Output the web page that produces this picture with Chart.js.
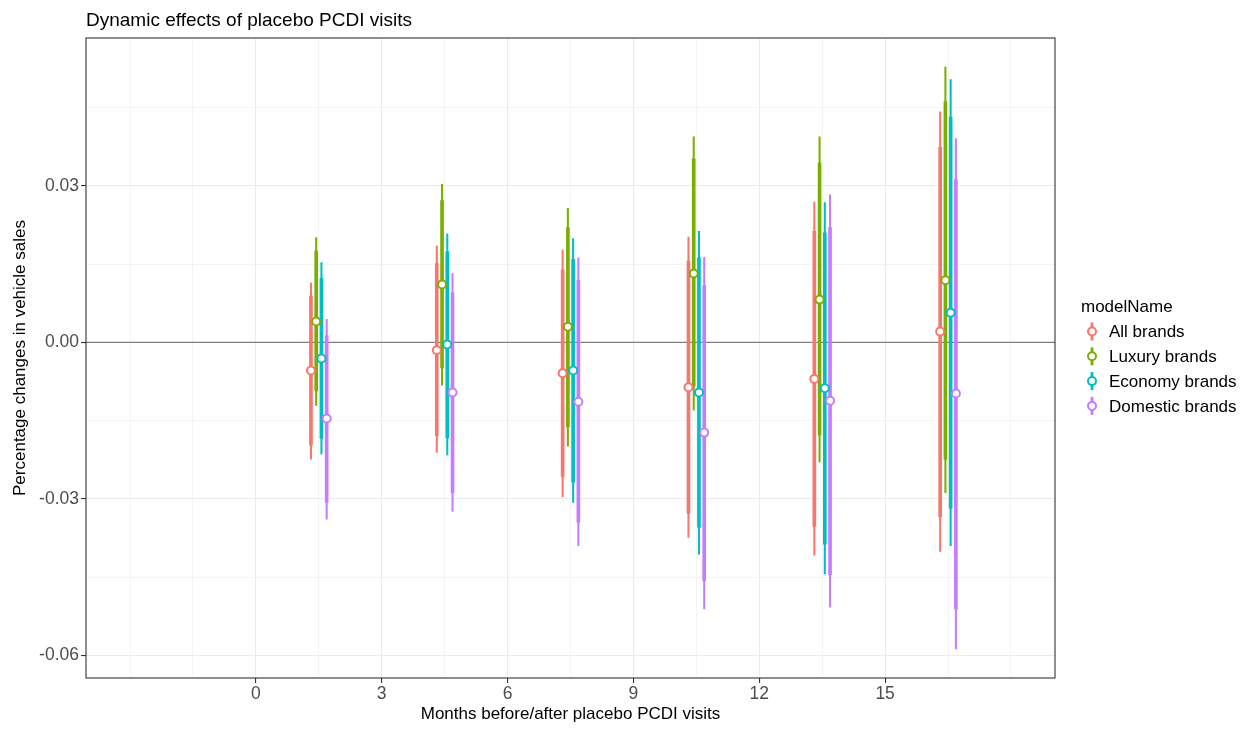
<!DOCTYPE html>
<html>
<head>
<title>Dynamic effects of placebo PCDI visits</title>
<script src="https://cdn.jsdelivr.net/npm/chart.js@4"></script>
<style>
  body { margin: 0; background: #fff; }
</style>
</head>
<body>
<canvas id="canvas" width="1252" height="729"></canvas>
<script>
// months after the visit (group centres) and brand groups
const months = [1.5, 4.5, 7.5, 10.5, 13.5, 16.5];
const brands = ['All brands', 'Luxury brands', 'Economy brands', 'Domestic brands'];
const colours = ['#F8766D', '#7CAE00', '#00BFC4', '#C77CFF'];
const dodge = [-0.1875, -0.0625, 0.0625, 0.1875];

// point estimates
const estAll = [-0.0054, -0.0015, -0.0059, -0.0086, -0.0070, 0.0021];
const estLux = [0.0040, 0.0111, 0.0030, 0.0132, 0.0082, 0.0119];
const estEco = [-0.0031, -0.0004, -0.0054, -0.0096, -0.0088, 0.0057];
const estDom = [-0.0146, -0.0096, -0.0114, -0.0173, -0.0112, -0.0098];

// inner (thick) intervals
const lo90All = [-0.0197, -0.0179, -0.0257, -0.0328, -0.0353, -0.0334];
const hi90All = [0.0089, 0.0151, 0.0139, 0.0156, 0.0213, 0.0374];
const lo90Lux = [-0.0093, -0.0049, -0.0162, -0.0084, -0.0178, -0.0224];
const hi90Lux = [0.0175, 0.0272, 0.0220, 0.0352, 0.0344, 0.0462];
const lo90Eco = [-0.0184, -0.0183, -0.0268, -0.0355, -0.0387, -0.0318];
const hi90Eco = [0.0123, 0.0174, 0.0159, 0.0162, 0.0210, 0.0432];
const lo90Dom = [-0.0307, -0.0288, -0.0345, -0.0457, -0.0446, -0.0511];
const hi90Dom = [0.0013, 0.0095, 0.0119, 0.0109, 0.0220, 0.0312];

// outer (thin) intervals
const lo95All = [-0.0224, -0.0211, -0.0296, -0.0374, -0.0408, -0.0401];
const hi95All = [0.0114, 0.0185, 0.0177, 0.0202, 0.0269, 0.0442];
const lo95Lux = [-0.0121, -0.0082, -0.0199, -0.0130, -0.0229, -0.0288];
const hi95Lux = [0.0201, 0.0303, 0.0257, 0.0394, 0.0394, 0.0528];
const lo95Eco = [-0.0214, -0.0216, -0.0307, -0.0406, -0.0444, -0.0390];
const hi95Eco = [0.0153, 0.0208, 0.0199, 0.0213, 0.0268, 0.0504];
const lo95Dom = [-0.0339, -0.0324, -0.0390, -0.0511, -0.0508, -0.0588];
const hi95Dom = [0.0044, 0.0132, 0.0162, 0.0163, 0.0283, 0.0391];

// axis breaks
const xBreaks = [-3, -1.5, 0, 1.5, 3, 4.5, 6, 7.5, 9, 10.5, 12, 13.5, 15, 16.5, 18];
const yBreaks = [-0.06, -0.045, -0.03, -0.015, 0, 0.015, 0.03, 0.045];

const series = [
  { est: estAll, lo90: lo90All, hi90: hi90All, lo95: lo95All, hi95: hi95All },
  { est: estLux, lo90: lo90Lux, hi90: hi90Lux, lo95: lo95Lux, hi95: hi95Lux },
  { est: estEco, lo90: lo90Eco, hi90: hi90Eco, lo95: lo95Eco, hi95: hi95Eco },
  { est: estDom, lo90: lo90Dom, hi90: hi90Dom, lo95: lo95Dom, hi95: hi95Dom },
];

const FONT = "'Liberation Sans', Arial, Helvetica, sans-serif";

const datasets = [];
series.forEach((s, i) => {
  const xs = months.map(m => m + dodge[i]);
  datasets.push({
    type: 'bar', label: brands[i] + ' 95',
    data: xs.map((x, j) => ({ x: x, y: [s.lo95[j], s.hi95[j]] })),
    backgroundColor: colours[i], borderWidth: 0,
    barThickness: 1.4, grouped: false, order: 3,
  });
  datasets.push({
    type: 'bar', label: brands[i] + ' 90',
    data: xs.map((x, j) => ({ x: x, y: [s.lo90[j], s.hi90[j]] })),
    backgroundColor: colours[i], borderWidth: 0,
    barThickness: 3, grouped: false, order: 2,
  });
  datasets.push({
    type: 'scatter', label: brands[i],
    data: xs.map((x, j) => ({ x: x, y: s.est[j] })),
    backgroundColor: '#FFFFFF', borderColor: colours[i],
    pointRadius: 4, pointBorderWidth: 2, order: 1,
  });
});

const xMajor = v => v >= 0 && v <= 15 && Math.abs(v % 3) < 1e-9;
const yMajor = v => Math.abs(Math.round(v / 0.015)) % 2 === 0;

const decor = {
  id: 'decor',
  beforeDatasetsDraw(chart) {
    const { ctx, chartArea: a, scales } = chart;
    const y0 = scales.y.getPixelForValue(0);
    ctx.save();
    ctx.strokeStyle = '#7F7F7F';
    ctx.lineWidth = 1.3;
    ctx.beginPath();
    ctx.moveTo(a.left, y0);
    ctx.lineTo(a.right, y0);
    ctx.stroke();
    ctx.restore();
  },
  afterDraw(chart) {
    const { ctx, chartArea: a } = chart;
    ctx.save();
    // panel border
    ctx.strokeStyle = '#333333';
    ctx.lineWidth = 1.1;
    ctx.strokeRect(a.left, a.top, a.right - a.left, a.bottom - a.top);

    // plot title
    ctx.fillStyle = '#000000';
    ctx.font = '19px ' + FONT;
    ctx.textAlign = 'left';
    ctx.textBaseline = 'alphabetic';
    ctx.fillText('Dynamic effects of placebo PCDI visits', a.left, 26);

    // legend
    ctx.font = '17px ' + FONT;
    ctx.fillText('modelName', 1081, 312);
    ctx.textBaseline = 'middle';
    brands.forEach((b, i) => {
      const cy = 331.5 + i * 24.8;
      const cx = 1092;
      ctx.strokeStyle = colours[i];
      ctx.lineWidth = 2.8;
      ctx.beginPath();
      ctx.moveTo(cx, cy - 9);
      ctx.lineTo(cx, cy + 9);
      ctx.stroke();
      ctx.beginPath();
      ctx.arc(cx, cy, 4, 0, Math.PI * 2);
      ctx.fillStyle = '#FFFFFF';
      ctx.fill();
      ctx.lineWidth = 2;
      ctx.stroke();
      ctx.fillStyle = '#000000';
      ctx.fillText(b, 1109, cy + 1);
    });
    ctx.restore();
  },
};

new Chart(document.getElementById('canvas'), {
  type: 'bar',
  data: { datasets: datasets },
  plugins: [decor],
  options: {
    responsive: false,
    animation: false,
    devicePixelRatio: 1,
    layout: { padding: { top: 38, right: 197, bottom: 0, left: 0 } },
    plugins: {
      legend: { display: false },
      title: { display: false },
      tooltip: { enabled: false },
    },
    scales: {
      x: {
        type: 'linear',
        min: -4.05,
        max: 19.05,
        offset: false,
        afterBuildTicks: scale => { scale.ticks = xBreaks.map(v => ({ value: v })); },
        afterFit: scale => { scale.height = 51; },
        ticks: {
          autoSkip: false, maxRotation: 0, padding: 1,
          color: '#4D4D4D', font: { family: FONT, size: 17.5 },
          callback: v => xMajor(v) ? String(v) : '',
        },
        grid: {
          offset: false,
          color: '#EBEBEB',
          lineWidth: c => xMajor(c.tick.value) ? 1.1 : 0.55,
          tickLength: 5,
          tickWidth: 1.1,
          tickColor: c => xMajor(c.tick.value) ? '#333333' : 'rgba(0,0,0,0)',
        },
        border: { display: false },
        title: {
          display: true, text: 'Months before/after placebo PCDI visits',
          color: '#000000', font: { family: FONT, size: 17 },
          padding: { top: 0, bottom: 4 },
        },
      },
      y: {
        type: 'linear',
        min: -0.06436,
        max: 0.05837,
        afterBuildTicks: scale => { scale.ticks = yBreaks.map(v => ({ value: v })); },
        afterFit: scale => { scale.width = 86; },
        ticks: {
          autoSkip: false, padding: 2,
          color: '#4D4D4D', font: { family: FONT, size: 17.5 },
          callback: v => yMajor(v) ? v.toFixed(2) : '',
        },
        grid: {
          color: '#EBEBEB',
          lineWidth: c => yMajor(c.tick.value) ? 1.1 : 0.55,
          tickLength: 5,
          tickWidth: 1.1,
          tickColor: c => yMajor(c.tick.value) ? '#333333' : 'rgba(0,0,0,0)',
        },
        border: { display: false },
        title: {
          display: true, text: 'Percentage changes in vehicle sales',
          color: '#000000', font: { family: FONT, size: 17 },
          padding: { top: 10, bottom: 0 },
        },
      },
    },
  },
});
</script>
</body>
</html>
